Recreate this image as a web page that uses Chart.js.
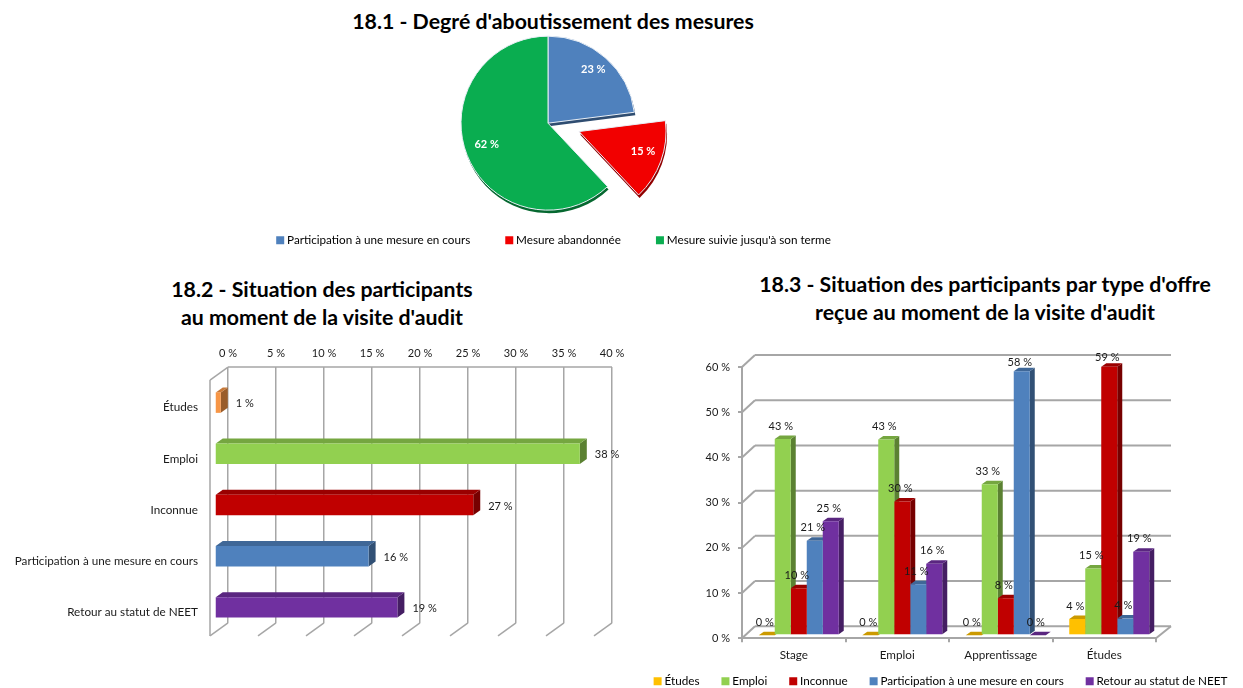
<!DOCTYPE html>
<html lang="fr">
<head>
    <meta charset="UTF-8">
    <title>18 - Situation des participants</title>
    <script src="https://cdn.jsdelivr.net/npm/chart.js"></script>
    <style>
        body { margin: 0; background: #fff; width: 1243px; height: 688px; overflow: hidden; position: relative; font-family: Lato, sans-serif; }
        canvas { position: absolute; }
        .title { position: absolute; text-align: center; font-weight: bold; font-size: 21.3px; line-height: 27.5px; color: #000; white-space: nowrap; }
    </style>
</head>
<body>
    <div class="title" style="left: 253px; width: 600px; top: 8px;">18.1 - Degré d'aboutissement des mesures</div>
    <div class="title" style="left: 22px; width: 600px; top: 276px;">18.2 - Situation des participants<br>au moment de la visite d'audit</div>
    <div class="title" style="left: 685px; width: 600px; top: 271px;">18.3 - Situation des participants par type d'offre<br>reçue au moment de la visite d'audit</div>

    <canvas id="pieChart" style="left: 105px; top: 0;"></canvas>
    <canvas id="barChart" style="left: 0; top: 330px;"></canvas>
    <canvas id="columnChart" style="left: 541px; top: 340px;"></canvas>

    <script>
        // 18.1
        const pieLabels = ['Participation à une mesure en cours', 'Mesure abandonnée', 'Mesure suivie jusqu\'à son terme'];
        const pieValues = [23, 15, 62];
        const pieColors = ['#4f81bd', '#f20000', '#0aad50'];
        const pieExplode = [0, 33, 0];

        // 18.2
        const barLabels = ['Études', 'Emploi', 'Inconnue', 'Participation à une mesure en cours', 'Retour au statut de NEET'];
        const barValues = [0.6, 38, 26.9, 16, 19];
        const barColors = ['#f79646', '#92d050', '#c00000', '#4f81bd', '#7030a0'];
        const barTicks = [0, 5, 10, 15, 20, 25, 30, 35, 40];

        // 18.3
        const offerTypes = ['Stage', 'Emploi', 'Apprentissage', 'Études'];
        const seriesNames = ['Études', 'Emploi', 'Inconnue', 'Participation à une mesure en cours', 'Retour au statut de NEET'];
        const etudes = [0, 0, 0, 3.6];
        const emploi = [43.4, 43.3, 33.4, 14.8];
        const inconnue = [10.4, 29.6, 8.2, 59.4];
        const participation = [20.9, 11.3, 58.4, 3.7];
        const retour = [25.2, 15.8, 0, 18.5];
        const seriesColors = ['#ffc000', '#92d050', '#c00000', '#4f81bd', '#7030a0'];

        const numFont = { family: 'Lato, sans-serif', size: 11 };
        const font = { family: 'Lato, sans-serif', size: 11.7 };
        const textColor = '#1a1a1a';
        const gridColor = '#a6a6a6';

        Chart.defaults.animation = false;
        Chart.defaults.responsive = false;
        Chart.defaults.font.family = font.family;
        Chart.defaults.font.size = font.size;
        Chart.defaults.color = textColor;

        function shade(hex, f) {
            const n = parseInt(hex.slice(1), 16);
            return 'rgb(' + [n >> 16, (n >> 8) & 255, n & 255].map(c => Math.round(c * f)).join(',') + ')';
        }

        function percent(v) {
            return Math.round(v) + ' %';
        }

        // legend squares sit close to their text, so a tiny box with a thick stroke
        function legendItems(names, colors) {
            return () => names.map((text, i) => ({
                text,
                fillStyle: colors[i],
                strokeStyle: colors[i],
                lineWidth: 6,
                hidden: false,
                index: i,
                datasetIndex: i
            }));
        }

        // Exploded slice, pie thickness and slice labels
        const pieExtras = {
            id: 'pieExtras',
            afterDatasetsUpdate(chart) {
                chart.getDatasetMeta(0).data.forEach((arc, i) => {
                    const mid = (arc.startAngle + arc.endAngle) / 2;
                    arc.x += Math.cos(mid) * pieExplode[i] - 7;
                    arc.y += Math.sin(mid) * pieExplode[i] * 0.75; // tilted view
                });
            },
            beforeDatasetsDraw(chart) {
                const ctx = chart.ctx;
                chart.getDatasetMeta(0).data.forEach((arc, i) => {
                    const x = arc.x + 1;
                    const y = arc.y + 3;
                    ctx.fillStyle = shade(pieColors[i], 0.6);
                    ctx.beginPath();
                    ctx.moveTo(x, y);
                    ctx.arc(x, y, arc.outerRadius, arc.startAngle, arc.endAngle);
                    ctx.closePath();
                    ctx.fill();
                });
            },
            afterDatasetsDraw(chart) {
                const ctx = chart.ctx;
                ctx.save();
                ctx.fillStyle = '#fff';
                ctx.font = 'bold 11px ' + font.family;
                ctx.textAlign = 'center';
                ctx.textBaseline = 'middle';
                chart.getDatasetMeta(0).data.forEach((arc, i) => {
                    const mid = (arc.startAngle + arc.endAngle) / 2;
                    const r = arc.outerRadius * 0.77;
                    ctx.fillText(percent(pieValues[i]), arc.x + Math.cos(mid) * r + 1, arc.y + Math.sin(mid) * r - 3);
                });
                ctx.restore();
            }
        };

        // Fake 3D for the bars: top and side faces first, then the library draws the fronts
        function bars3d(moveX, moveY, depthX, depthY) {
            return {
                id: 'bars3d',
                beforeDatasetsDraw(chart) {
                    const ctx = chart.ctx;
                    ctx.save();
                    ctx.translate(moveX, moveY);
                    const metas = chart.getSortedVisibleDatasetMetas();
                    chart.data.labels.forEach((label, i) => {
                        metas.forEach(meta => {
                            const bar = meta.data[i];
                            const p = bar.getProps(['x', 'y', 'base', 'width', 'height']);
                            const horizontal = bar.horizontal;
                            const left = horizontal ? Math.min(p.base, p.x) : p.x - p.width / 2;
                            const right = horizontal ? Math.max(p.base, p.x) : p.x + p.width / 2;
                            const top = horizontal ? p.y - p.height / 2 : Math.min(p.y, p.base);
                            const bottom = horizontal ? p.y + p.height / 2 : Math.max(p.y, p.base);
                            const color = bar.options.backgroundColor;
                            ctx.fillStyle = shade(color, 0.62);
                            ctx.beginPath();
                            ctx.moveTo(right, top);
                            ctx.lineTo(right + depthX, top - depthY);
                            ctx.lineTo(right + depthX, bottom - depthY);
                            ctx.lineTo(right, bottom);
                            ctx.closePath();
                            ctx.fill();
                            ctx.fillStyle = shade(color, 0.8);
                            ctx.beginPath();
                            ctx.moveTo(left, top);
                            ctx.lineTo(left + depthX, top - depthY);
                            ctx.lineTo(right + depthX, top - depthY);
                            ctx.lineTo(right, top);
                            ctx.closePath();
                            ctx.fill();
                        });
                    });
                    ctx.restore();
                },
                beforeDatasetDraw(chart) {
                    chart.ctx.save();
                    chart.ctx.translate(moveX, moveY);
                },
                afterDatasetDraw(chart) {
                    chart.ctx.restore();
                }
            };
        }

        function line(ctx, x1, y1, x2, y2) {
            ctx.beginPath();
            ctx.moveTo(x1, y1);
            ctx.lineTo(x2, y2);
            ctx.stroke();
        }

        // 18.2 side wall and floor, value labels
        const barWalls = {
            id: 'barWalls',
            beforeDatasetsDraw(chart) {
                const ctx = chart.ctx;
                const { top, bottom, left, right } = chart.chartArea;
                ctx.save();
                ctx.strokeStyle = gridColor;
                ctx.lineWidth = 1.5;
                line(ctx, left, top, left - 18, top + 13);
                line(ctx, left - 18, top + 13, left - 18, bottom + 13);
                chart.scales.x.ticks.forEach(t => {
                    const x = chart.scales.x.getPixelForValue(t.value);
                    line(ctx, x, bottom, x - 18, bottom + 13);
                });
                line(ctx, left, top, right, top);
                ctx.restore();
            },
            afterDatasetsDraw(chart) {
                const ctx = chart.ctx;
                ctx.save();
                ctx.fillStyle = textColor;
                ctx.font = numFont.size + 'px ' + numFont.family;
                ctx.textBaseline = 'middle';
                chart.getDatasetMeta(0).data.forEach((bar, i) => {
                    ctx.fillText(percent(barValues[i]), bar.x - 13 + 7 + 8, bar.y + 11);
                });
                ctx.restore();
            }
        };

        // 18.3 back wall and value labels, legend pulled up closer to the axis
        const columnWalls = {
            id: 'columnWalls',
            afterLayout(chart) {
                chart.legend.top -= 14;
                chart.legend.bottom -= 14;
            },
            beforeDatasetsDraw(chart) {
                const ctx = chart.ctx;
                const { left, right, bottom } = chart.chartArea;
                ctx.save();
                ctx.strokeStyle = gridColor;
                ctx.lineWidth = 2;
                chart.scales.y.ticks.forEach(t => {
                    const y = chart.scales.y.getPixelForValue(t.value);
                    line(ctx, left, y, left + 13, y - 12);
                    line(ctx, left + 13, y - 12, right + 15, y - 12);
                });
                line(ctx, right, bottom, right + 15, bottom - 12);
                ctx.restore();
            },
            afterDatasetsDraw(chart) {
                const ctx = chart.ctx;
                ctx.save();
                ctx.fillStyle = textColor;
                ctx.font = numFont.size + 'px ' + numFont.family;
                ctx.textAlign = 'center';
                ctx.textBaseline = 'middle';
                chart.data.datasets.forEach((ds, d) => {
                    chart.getDatasetMeta(d).data.forEach((bar, i) => {
                        const up = ds.data[i] > 55 ? 9 : 13;
                        ctx.fillText(percent(ds.data[i]), bar.x + 3, bar.y - 3 - up);
                    });
                });
                ctx.restore();
            }
        };

        const pieCanvas = document.getElementById('pieChart');
        pieCanvas.width = 900;
        pieCanvas.height = 262;
        new Chart(pieCanvas, {
            type: 'pie',
            data: {
                labels: pieLabels,
                datasets: [{
                    data: pieValues,
                    backgroundColor: pieColors,
                    radius: 87,
                    borderColor: '#e8eef5',
                    borderWidth: 1,
                    clip: false
                }]
            },
            options: {
                layout: { padding: { top: 50, bottom: 6 } },
                plugins: {
                    tooltip: { enabled: false },
                    legend: {
                        position: 'bottom',
                        labels: { boxWidth: 2, boxHeight: 2, padding: 38, font, generateLabels: legendItems(pieLabels, pieColors) }
                    }
                }
            },
            plugins: [pieExtras]
        });

        const barCanvas = document.getElementById('barChart');
        barCanvas.width = 640;
        barCanvas.height = 330;
        new Chart(barCanvas, {
            type: 'bar',
            data: {
                labels: barLabels,
                datasets: [{
                    data: barValues,
                    backgroundColor: barColors,
                    barPercentage: 0.4,
                    categoryPercentage: 1,
                    clip: false
                }]
            },
            options: {
                indexAxis: 'y',
                layout: { padding: { right: 28, bottom: 15 } },
                plugins: { legend: { display: false }, tooltip: { enabled: false } },
                scales: {
                    x: {
                        position: 'top',
                        min: barTicks[0],
                        max: barTicks[barTicks.length - 1],
                        afterFit: s => { s.height = 27; },
                        afterBuildTicks: s => { s.ticks = barTicks.map(value => ({ value })); },
                        ticks: { callback: v => v + ' %', padding: 7, font: numFont, color: textColor, maxRotation: 0 },
                        grid: { color: gridColor, lineWidth: 1.5, drawTicks: false },
                        border: { display: false }
                    },
                    y: {
                        afterFit: s => { s.width = 228; },
                        ticks: { padding: 30, labelOffset: 15, font, color: textColor },
                        grid: { display: false, drawTicks: false },
                        border: { display: false }
                    }
                }
            },
            plugins: [barWalls, bars3d(-13, 10, 7, 5)]
        });

        const columnSeries = [etudes, emploi, inconnue, participation, retour];
        const columnCanvas = document.getElementById('columnChart');
        columnCanvas.width = 802;
        columnCanvas.height = 371;
        new Chart(columnCanvas, {
            type: 'bar',
            data: {
                labels: offerTypes,
                datasets: columnSeries.map((data, i) => ({
                    label: seriesNames[i],
                    data,
                    backgroundColor: seriesColors[i],
                    barPercentage: 1,
                    categoryPercentage: 0.773,
                    clip: false
                }))
            },
            options: {
                layout: { padding: { top: 27 } },
                plugins: {
                    tooltip: { enabled: false },
                    legend: {
                        position: 'bottom',
                        labels: { boxWidth: 2, boxHeight: 2, padding: 25, font, generateLabels: legendItems(seriesNames, seriesColors) }
                    }
                },
                scales: {
                    x: {
                        afterFit: s => { s.height = 26; },
                        ticks: { padding: 6, font, color: textColor },
                        grid: { color: gridColor, lineWidth: 2, drawOnChartArea: false, tickLength: 4, offset: true },
                        border: { color: gridColor, width: 2 }
                    },
                    y: {
                        min: 0,
                        max: 60,
                        afterFit: s => { s.width = 201; },
                        ticks: { stepSize: 10, callback: v => v + ' %', padding: 8, font: numFont, color: textColor },
                        grid: { color: gridColor, lineWidth: 2, drawOnChartArea: false, tickLength: 4 },
                        border: { color: gridColor, width: 2 }
                    },
                    // empty axis keeps the plot left of the canvas centre without moving the legend
                    spacer: {
                        position: 'right',
                        afterFit: s => { s.width = 187; },
                        ticks: { display: false },
                        grid: { display: false, drawTicks: false },
                        border: { display: false }
                    }
                }
            },
            plugins: [columnWalls, bars3d(5, -3, 5, 3.5)]
        });
    </script>
</body>
</html>
